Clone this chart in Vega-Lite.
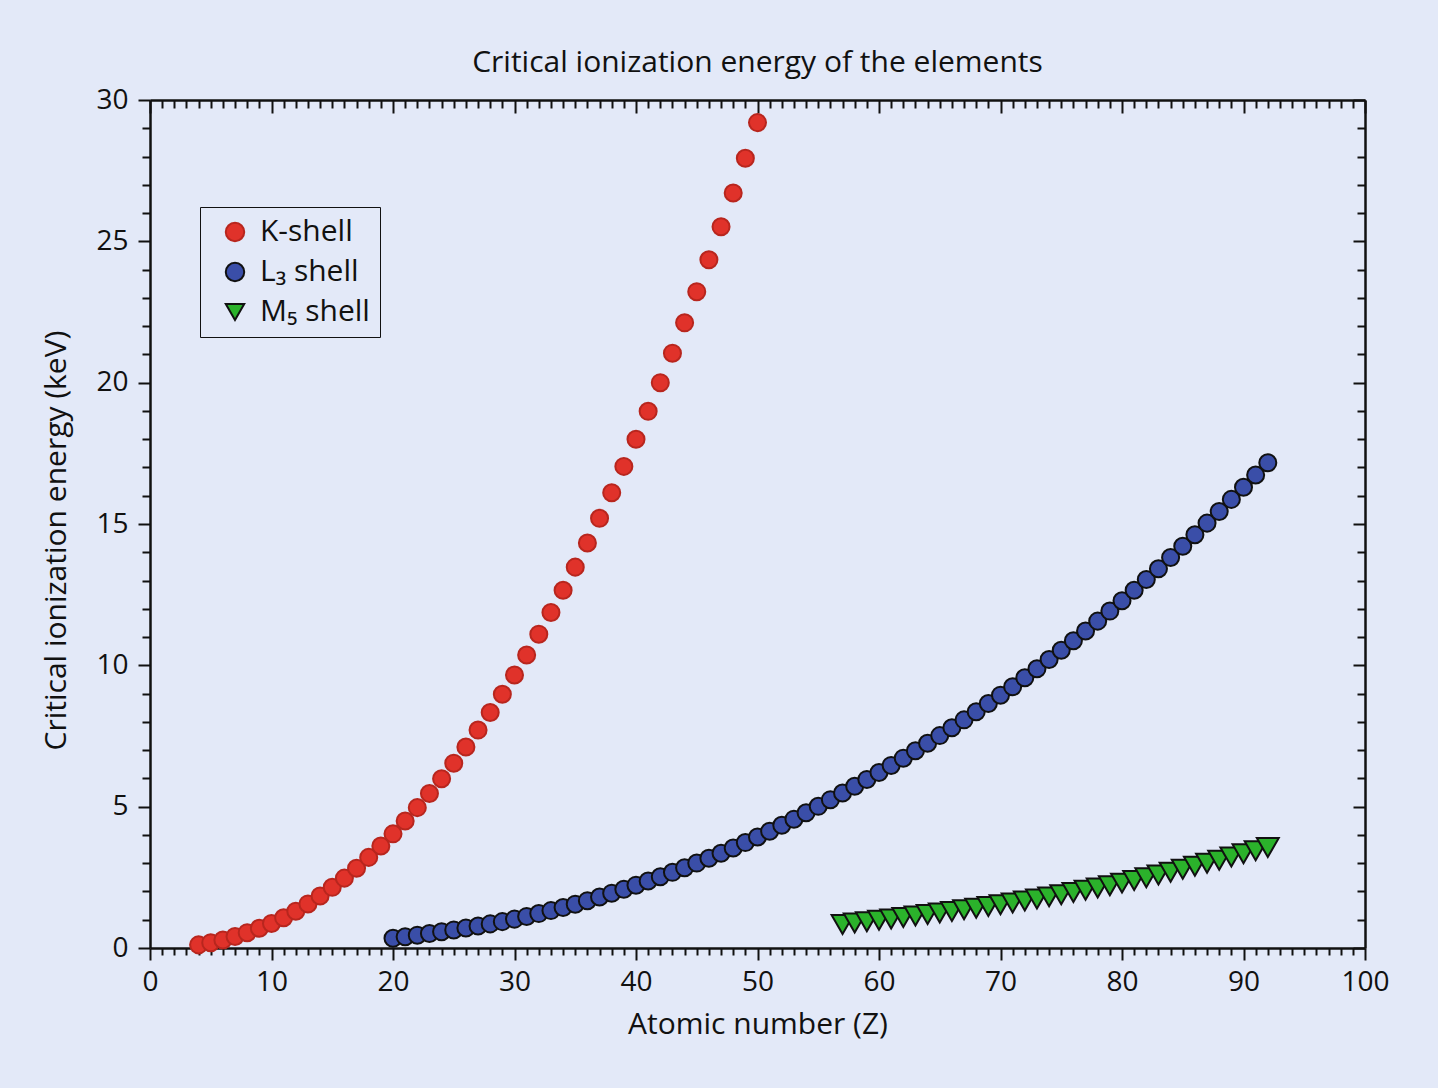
{
  "$schema": "https://vega.github.io/schema/vega-lite/v6.json",
  "width": 1215,
  "height": 848,
  "autosize": {"type": "none"},
  "padding": {"left": 150, "top": 100, "right": 73, "bottom": 140},
  "background": "#e3e9f8",
  "title": {"text": "Critical ionization energy of the elements", "fontSize": 30, "font": "Open Sans", "fontWeight": "normal", "color": "#111111", "anchor": "middle", "offset": 8},
  "datasets": {
    "edges": [
      {"Z": 4, "E": 0.111, "shell": "K-shell"}, {"Z": 5, "E": 0.188, "shell": "K-shell"}, {"Z": 6, "E": 0.284, "shell": "K-shell"}, {"Z": 7, "E": 0.410, "shell": "K-shell"}, {"Z": 8, "E": 0.543, "shell": "K-shell"}, {"Z": 9, "E": 0.697, "shell": "K-shell"}, {"Z": 10, "E": 0.870, "shell": "K-shell"}, {"Z": 11, "E": 1.071, "shell": "K-shell"}, {"Z": 12, "E": 1.303, "shell": "K-shell"}, {"Z": 13, "E": 1.560, "shell": "K-shell"}, {"Z": 14, "E": 1.839, "shell": "K-shell"}, {"Z": 15, "E": 2.146, "shell": "K-shell"}, {"Z": 16, "E": 2.472, "shell": "K-shell"}, {"Z": 17, "E": 2.822, "shell": "K-shell"}, {"Z": 18, "E": 3.206, "shell": "K-shell"}, {"Z": 19, "E": 3.608, "shell": "K-shell"}, {"Z": 20, "E": 4.038, "shell": "K-shell"}, {"Z": 21, "E": 4.493, "shell": "K-shell"}, {"Z": 22, "E": 4.966, "shell": "K-shell"}, {"Z": 23, "E": 5.465, "shell": "K-shell"}, {"Z": 24, "E": 5.989, "shell": "K-shell"}, {"Z": 25, "E": 6.539, "shell": "K-shell"}, {"Z": 26, "E": 7.112, "shell": "K-shell"}, {"Z": 27, "E": 7.709, "shell": "K-shell"}, {"Z": 28, "E": 8.333, "shell": "K-shell"}, {"Z": 29, "E": 8.979, "shell": "K-shell"}, {"Z": 30, "E": 9.659, "shell": "K-shell"}, {"Z": 31, "E": 10.367, "shell": "K-shell"}, {"Z": 32, "E": 11.103, "shell": "K-shell"}, {"Z": 33, "E": 11.867, "shell": "K-shell"}, {"Z": 34, "E": 12.658, "shell": "K-shell"}, {"Z": 35, "E": 13.474, "shell": "K-shell"}, {"Z": 36, "E": 14.326, "shell": "K-shell"}, {"Z": 37, "E": 15.200, "shell": "K-shell"}, {"Z": 38, "E": 16.105, "shell": "K-shell"}, {"Z": 39, "E": 17.038, "shell": "K-shell"}, {"Z": 40, "E": 17.998, "shell": "K-shell"}, {"Z": 41, "E": 18.986, "shell": "K-shell"}, {"Z": 42, "E": 20.000, "shell": "K-shell"}, {"Z": 43, "E": 21.044, "shell": "K-shell"}, {"Z": 44, "E": 22.117, "shell": "K-shell"}, {"Z": 45, "E": 23.220, "shell": "K-shell"}, {"Z": 46, "E": 24.350, "shell": "K-shell"}, {"Z": 47, "E": 25.514, "shell": "K-shell"}, {"Z": 48, "E": 26.711, "shell": "K-shell"}, {"Z": 49, "E": 27.940, "shell": "K-shell"}, {"Z": 50, "E": 29.200, "shell": "K-shell"},
      {"Z": 20, "E": 0.346, "shell": "L₃ shell"}, {"Z": 21, "E": 0.399, "shell": "L₃ shell"}, {"Z": 22, "E": 0.454, "shell": "L₃ shell"}, {"Z": 23, "E": 0.512, "shell": "L₃ shell"}, {"Z": 24, "E": 0.574, "shell": "L₃ shell"}, {"Z": 25, "E": 0.639, "shell": "L₃ shell"}, {"Z": 26, "E": 0.707, "shell": "L₃ shell"}, {"Z": 27, "E": 0.778, "shell": "L₃ shell"}, {"Z": 28, "E": 0.853, "shell": "L₃ shell"}, {"Z": 29, "E": 0.933, "shell": "L₃ shell"}, {"Z": 30, "E": 1.022, "shell": "L₃ shell"}, {"Z": 31, "E": 1.117, "shell": "L₃ shell"}, {"Z": 32, "E": 1.217, "shell": "L₃ shell"}, {"Z": 33, "E": 1.323, "shell": "L₃ shell"}, {"Z": 34, "E": 1.434, "shell": "L₃ shell"}, {"Z": 35, "E": 1.550, "shell": "L₃ shell"}, {"Z": 36, "E": 1.675, "shell": "L₃ shell"}, {"Z": 37, "E": 1.804, "shell": "L₃ shell"}, {"Z": 38, "E": 1.940, "shell": "L₃ shell"}, {"Z": 39, "E": 2.080, "shell": "L₃ shell"}, {"Z": 40, "E": 2.223, "shell": "L₃ shell"}, {"Z": 41, "E": 2.371, "shell": "L₃ shell"}, {"Z": 42, "E": 2.520, "shell": "L₃ shell"}, {"Z": 43, "E": 2.677, "shell": "L₃ shell"}, {"Z": 44, "E": 2.838, "shell": "L₃ shell"}, {"Z": 45, "E": 3.004, "shell": "L₃ shell"}, {"Z": 46, "E": 3.173, "shell": "L₃ shell"}, {"Z": 47, "E": 3.351, "shell": "L₃ shell"}, {"Z": 48, "E": 3.538, "shell": "L₃ shell"}, {"Z": 49, "E": 3.730, "shell": "L₃ shell"}, {"Z": 50, "E": 3.929, "shell": "L₃ shell"}, {"Z": 51, "E": 4.132, "shell": "L₃ shell"}, {"Z": 52, "E": 4.341, "shell": "L₃ shell"}, {"Z": 53, "E": 4.557, "shell": "L₃ shell"}, {"Z": 54, "E": 4.786, "shell": "L₃ shell"}, {"Z": 55, "E": 5.012, "shell": "L₃ shell"}, {"Z": 56, "E": 5.247, "shell": "L₃ shell"}, {"Z": 57, "E": 5.483, "shell": "L₃ shell"}, {"Z": 58, "E": 5.723, "shell": "L₃ shell"}, {"Z": 59, "E": 5.964, "shell": "L₃ shell"}, {"Z": 60, "E": 6.208, "shell": "L₃ shell"}, {"Z": 61, "E": 6.459, "shell": "L₃ shell"}, {"Z": 62, "E": 6.716, "shell": "L₃ shell"}, {"Z": 63, "E": 6.977, "shell": "L₃ shell"}, {"Z": 64, "E": 7.243, "shell": "L₃ shell"}, {"Z": 65, "E": 7.514, "shell": "L₃ shell"}, {"Z": 66, "E": 7.790, "shell": "L₃ shell"}, {"Z": 67, "E": 8.071, "shell": "L₃ shell"}, {"Z": 68, "E": 8.358, "shell": "L₃ shell"}, {"Z": 69, "E": 8.648, "shell": "L₃ shell"}, {"Z": 70, "E": 8.944, "shell": "L₃ shell"}, {"Z": 71, "E": 9.244, "shell": "L₃ shell"}, {"Z": 72, "E": 9.561, "shell": "L₃ shell"}, {"Z": 73, "E": 9.881, "shell": "L₃ shell"}, {"Z": 74, "E": 10.207, "shell": "L₃ shell"}, {"Z": 75, "E": 10.535, "shell": "L₃ shell"}, {"Z": 76, "E": 10.871, "shell": "L₃ shell"}, {"Z": 77, "E": 11.215, "shell": "L₃ shell"}, {"Z": 78, "E": 11.564, "shell": "L₃ shell"}, {"Z": 79, "E": 11.919, "shell": "L₃ shell"}, {"Z": 80, "E": 12.284, "shell": "L₃ shell"}, {"Z": 81, "E": 12.658, "shell": "L₃ shell"}, {"Z": 82, "E": 13.035, "shell": "L₃ shell"}, {"Z": 83, "E": 13.419, "shell": "L₃ shell"}, {"Z": 84, "E": 13.814, "shell": "L₃ shell"}, {"Z": 85, "E": 14.214, "shell": "L₃ shell"}, {"Z": 86, "E": 14.619, "shell": "L₃ shell"}, {"Z": 87, "E": 15.031, "shell": "L₃ shell"}, {"Z": 88, "E": 15.444, "shell": "L₃ shell"}, {"Z": 89, "E": 15.871, "shell": "L₃ shell"}, {"Z": 90, "E": 16.300, "shell": "L₃ shell"}, {"Z": 91, "E": 16.733, "shell": "L₃ shell"}, {"Z": 92, "E": 17.166, "shell": "L₃ shell"},
      {"Z": 57, "E": 0.832, "shell": "M₅ shell"}, {"Z": 58, "E": 0.883, "shell": "M₅ shell"}, {"Z": 59, "E": 0.929, "shell": "M₅ shell"}, {"Z": 60, "E": 0.978, "shell": "M₅ shell"}, {"Z": 61, "E": 1.027, "shell": "M₅ shell"}, {"Z": 62, "E": 1.080, "shell": "M₅ shell"}, {"Z": 63, "E": 1.131, "shell": "M₅ shell"}, {"Z": 64, "E": 1.185, "shell": "M₅ shell"}, {"Z": 65, "E": 1.241, "shell": "M₅ shell"}, {"Z": 66, "E": 1.295, "shell": "M₅ shell"}, {"Z": 67, "E": 1.351, "shell": "M₅ shell"}, {"Z": 68, "E": 1.409, "shell": "M₅ shell"}, {"Z": 69, "E": 1.468, "shell": "M₅ shell"}, {"Z": 70, "E": 1.528, "shell": "M₅ shell"}, {"Z": 71, "E": 1.589, "shell": "M₅ shell"}, {"Z": 72, "E": 1.662, "shell": "M₅ shell"}, {"Z": 73, "E": 1.735, "shell": "M₅ shell"}, {"Z": 74, "E": 1.809, "shell": "M₅ shell"}, {"Z": 75, "E": 1.883, "shell": "M₅ shell"}, {"Z": 76, "E": 1.960, "shell": "M₅ shell"}, {"Z": 77, "E": 2.040, "shell": "M₅ shell"}, {"Z": 78, "E": 2.122, "shell": "M₅ shell"}, {"Z": 79, "E": 2.206, "shell": "M₅ shell"}, {"Z": 80, "E": 2.295, "shell": "M₅ shell"}, {"Z": 81, "E": 2.389, "shell": "M₅ shell"}, {"Z": 82, "E": 2.484, "shell": "M₅ shell"}, {"Z": 83, "E": 2.580, "shell": "M₅ shell"}, {"Z": 84, "E": 2.683, "shell": "M₅ shell"}, {"Z": 85, "E": 2.787, "shell": "M₅ shell"}, {"Z": 86, "E": 2.892, "shell": "M₅ shell"}, {"Z": 87, "E": 3.000, "shell": "M₅ shell"}, {"Z": 88, "E": 3.105, "shell": "M₅ shell"}, {"Z": 89, "E": 3.219, "shell": "M₅ shell"}, {"Z": 90, "E": 3.332, "shell": "M₅ shell"}, {"Z": 91, "E": 3.442, "shell": "M₅ shell"}, {"Z": 92, "E": 3.552, "shell": "M₅ shell"}
    ]
  },
  "data": {"name": "edges"},
  "layer": [
    {
      "transform": [{"filter": "datum.shell !== 'M₅ shell'"}],
      "mark": {"type": "point", "filled": true, "opacity": 1, "strokeWidth": 2},
      "encoding": {
        "x": {"field": "Z", "type": "quantitative", "scale": {"domain": [0, 100], "nice": false, "zero": false},
          "axis": {"orient": "bottom", "values": [0,1,2,3,4,5,6,7,8,9,10,11,12,13,14,15,16,17,18,19,20,21,22,23,24,25,26,27,28,29,30,31,32,33,34,35,36,37,38,39,40,41,42,43,44,45,46,47,48,49,50,51,52,53,54,55,56,57,58,59,60,61,62,63,64,65,66,67,68,69,70,71,72,73,74,75,76,77,78,79,80,81,82,83,84,85,86,87,88,89,90,91,92,93,94,95,96,97,98,99,100],
            "tickSize": {"condition": {"test": "datum.value % 10 === 0", "value": 12}, "value": 7},
            "labelExpr": "datum.value % 10 === 0 ? datum.label : ''", "labelOverlap": false, "labelFlush": false, "labelPadding": 8,
            "title": "Atomic number (Z)", "titleFontSize": 30, "titlePadding": 13}},
        "y": {"field": "E", "type": "quantitative", "scale": {"domain": [0, 30], "nice": false},
          "axis": {"orient": "left", "values": [0,1,2,3,4,5,6,7,8,9,10,11,12,13,14,15,16,17,18,19,20,21,22,23,24,25,26,27,28,29,30],
            "tickSize": {"condition": {"test": "datum.value % 5 === 0", "value": 12}, "value": 8},
            "labelExpr": "datum.value % 5 === 0 ? datum.label : ''", "labelOverlap": false, "labelFlush": false, "labelPadding": 10,
            "title": "Critical ionization energy (keV)", "titleFontSize": 30, "titlePadding": 24, "titleY": 440}},
        "color": {"field": "shell", "type": "nominal", "scale": {"domain": ["K-shell", "L₃ shell", "M₅ shell"], "range": ["#e0322a", "#3a4ea8", "#2bb22b"]}, "legend": {"title": null}},
        "shape": {"field": "shell", "type": "nominal", "scale": {"domain": ["K-shell", "L₃ shell", "M₅ shell"], "range": ["circle", "circle", "triangle-down"]}, "legend": {"title": null}},
        "stroke": {"field": "shell", "type": "nominal", "scale": {"domain": ["K-shell", "L₃ shell", "M₅ shell"], "range": ["#b8261e", "#111111", "#111111"]}, "legend": {"title": null}},
        "size": {"value": 290}
      }
    },
    {
      "transform": [{"filter": "datum.shell === 'M₅ shell'"}],
      "mark": {"type": "point", "filled": true, "opacity": 1, "strokeWidth": 2},
      "encoding": {
        "x": {"field": "Z", "type": "quantitative", "scale": {"domain": [0, 100], "nice": false, "zero": false},
          "axis": {"orient": "top", "values": [0,1,2,3,4,5,6,7,8,9,10,11,12,13,14,15,16,17,18,19,20,21,22,23,24,25,26,27,28,29,30,31,32,33,34,35,36,37,38,39,40,41,42,43,44,45,46,47,48,49,50,51,52,53,54,55,56,57,58,59,60,61,62,63,64,65,66,67,68,69,70,71,72,73,74,75,76,77,78,79,80,81,82,83,84,85,86,87,88,89,90,91,92,93,94,95,96,97,98,99,100],
            "tickSize": {"condition": {"test": "datum.value % 10 === 0", "value": -13}, "value": -8},
            "labels": false, "title": null}},
        "y": {"field": "E", "type": "quantitative", "scale": {"domain": [0, 30], "nice": false},
          "axis": {"orient": "right", "values": [0,1,2,3,4,5,6,7,8,9,10,11,12,13,14,15,16,17,18,19,20,21,22,23,24,25,26,27,28,29,30],
            "tickSize": {"condition": {"test": "datum.value % 5 === 0", "value": -12}, "value": -8},
            "labels": false, "title": null}},
        "color": {"field": "shell", "type": "nominal", "scale": {"domain": ["K-shell", "L₃ shell", "M₅ shell"], "range": ["#e0322a", "#3a4ea8", "#2bb22b"]}, "legend": {"title": null}},
        "shape": {"field": "shell", "type": "nominal", "scale": {"domain": ["K-shell", "L₃ shell", "M₅ shell"], "range": ["circle", "circle", "triangle-down"]}, "legend": {"title": null}},
        "stroke": {"field": "shell", "type": "nominal", "scale": {"domain": ["K-shell", "L₃ shell", "M₅ shell"], "range": ["#b8261e", "#111111", "#111111"]}, "legend": {"title": null}},
        "size": {"value": 480}
      }
    }
  ],
  "resolve": {"axis": {"x": "independent", "y": "independent"}},
  "config": {
    "view": {"stroke": null},
    "axis": {"grid": false, "labelFont": "Open Sans", "titleFont": "Open Sans", "labelColor": "#111111", "titleColor": "#111111", "tickColor": "#111111", "domainColor": "#111111", "labelFontSize": 28, "titleFontSize": 30, "titleFontWeight": "normal", "tickWidth": 2, "domainWidth": 2.5},
    "legend": {"orient": "none", "legendX": 50, "legendY": 107, "strokeColor": "#111111", "padding": 10, "labelFont": "Open Sans", "labelFontSize": 30, "labelColor": "#111111", "symbolSize": 340, "symbolStrokeWidth": 2, "rowPadding": 10, "labelOffset": 10, "symbolOffset": 10}
  }
}
